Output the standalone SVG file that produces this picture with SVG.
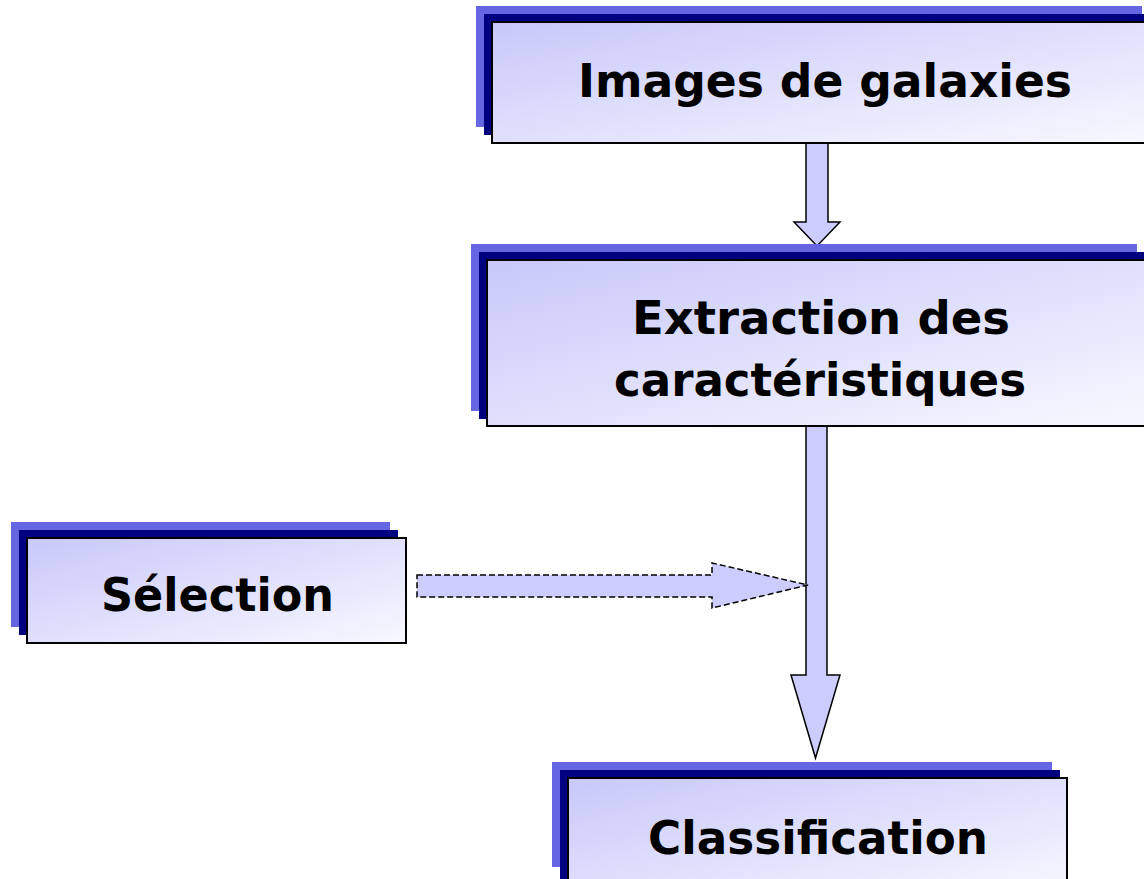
<svg xmlns="http://www.w3.org/2000/svg" width="1144" height="879" viewBox="0 0 1144 879">
<defs>
<linearGradient id="g" x1="0" y1="0" x2="1" y2="1">
<stop offset="0" stop-color="#c8c8fa"/>
<stop offset="1" stop-color="#f8f8ff"/>
</linearGradient>
<style>
.l1{fill:#6666e2}
.l2{fill:#000080}
.main{fill:url(#g);stroke:#000;stroke-width:2}
.arr{fill:#ccccff;stroke:#000;stroke-width:1.5;stroke-linejoin:miter}
.dash{fill:#ccccff;stroke:#000;stroke-width:1.5;stroke-dasharray:6 3}
.t{font-family:"DejaVu Sans","Liberation Sans",sans-serif;font-weight:bold;font-size:46px;fill:#000}
</style>
</defs>
<rect width="1144" height="879" fill="#fff"/>
<g id="connectors">
<polygon class="arr" points="806,143 828,143 828,222 840,222 817,246 794,222 806,222"/>
<polygon class="arr" points="806,426 827,426 827,675 840,675 815.5,758 791,675 806,675"/>
<polygon class="dash" points="417,575 712,575 712,563 808,585 712,608 712,597 417,597"/>
</g>
<g id="node-images">
<rect class="l1" x="476" y="6" width="666" height="121"/>
<rect class="l2" x="484" y="14" width="670" height="121"/>
<rect class="main" x="492" y="22" width="660" height="121"/>
<text class="t" x="578" y="97" textLength="494" lengthAdjust="spacingAndGlyphs">Images de galaxies</text>
</g>
<g id="node-extraction">
<rect class="l1" x="471" y="244" width="666" height="167"/>
<rect class="l2" x="479" y="252" width="670" height="167"/>
<rect class="main" x="487" y="260" width="665" height="166"/>
<text class="t" x="632" y="334" textLength="378" lengthAdjust="spacingAndGlyphs">Extraction des</text>
<text class="t" x="614" y="396" textLength="412" lengthAdjust="spacingAndGlyphs">caractéristiques</text>
</g>
<g id="node-selection">
<rect class="l1" x="11" y="522" width="379" height="105"/>
<rect class="l2" x="19" y="530" width="379" height="105"/>
<rect class="main" x="27" y="538" width="379" height="105"/>
<text class="t" x="101" y="611" textLength="233" lengthAdjust="spacingAndGlyphs">Sélection</text>
</g>
<g id="node-classification">
<rect class="l1" x="552" y="762" width="500" height="105"/>
<rect class="l2" x="560" y="770" width="500" height="120"/>
<rect class="main" x="568" y="778" width="499" height="120"/>
<text class="t" x="648" y="854" textLength="340" lengthAdjust="spacingAndGlyphs">Classification</text>
</g>
</svg>
